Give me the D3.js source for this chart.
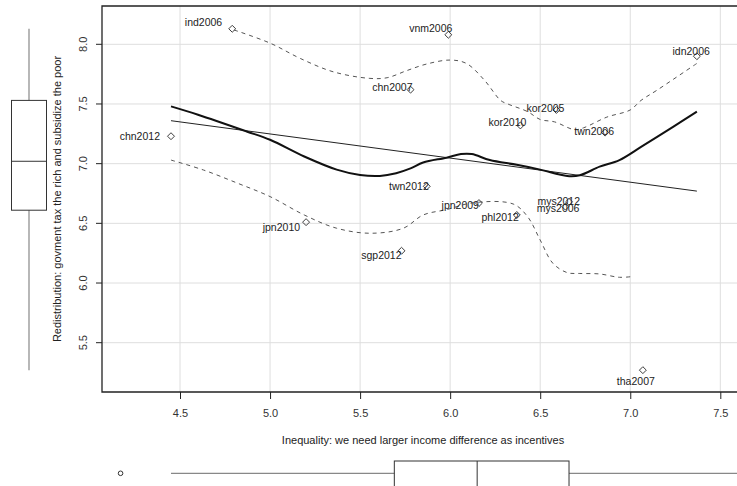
<!DOCTYPE html>
<html>
<head>
<meta charset="utf-8">
<script src="https://cdnjs.cloudflare.com/ajax/libs/d3/7.8.5/d3.min.js"></script>
<style>
  body { margin: 0; background: #fff; }
  svg { font-family: "Liberation Sans", Arial, sans-serif; }
</style>
</head>
<body>
<div id="chart"></div>
<script>
var width = 737,
    height = 486;

// observations
var labels = ["ind2006", "chn2012", "jpn2010", "vnm2006", "idn2006", "chn2007", "kor2005",
              "kor2010", "twn2006", "twn2012", "jpn2009", "phl2012", "mys2012", "mys2006",
              "sgp2012", "tha2007"];
var inequality = [4.79, 4.45, 5.20, 5.99, 7.37, 5.78, 6.59, 6.39, 6.86, 5.87, 6.16, 6.37, 6.66, 6.64, 5.73, 7.07];
var redistribution = [8.13, 7.23, 6.51, 8.08, 7.90, 7.62, 7.45, 7.32, 7.26, 6.81, 6.67, 6.57, 6.68, 6.64, 6.27, 5.27];

// linear fit endpoints
var fitX = [4.45, 7.37];
var fitY = [7.36, 6.77];

// smoother and spread curves
var smoothX = [4.45, 4.6, 4.87, 5.0, 5.19, 5.37, 5.5, 5.61, 5.70, 5.78, 5.85, 5.98, 6.06, 6.12, 6.22, 6.37, 6.5, 6.65, 6.72, 6.83, 6.94, 7.06, 7.24, 7.37];
var smoothY = [7.48, 7.41, 7.27, 7.20, 7.06, 6.95, 6.905, 6.897, 6.92, 6.96, 7.01, 7.05, 7.08, 7.08, 7.03, 6.99, 6.95, 6.897, 6.903, 6.975, 7.03, 7.14, 7.31, 7.436];
var upperX = [4.80, 5.0, 5.17, 5.35, 5.55, 5.65, 5.76, 5.87, 6.0, 6.09, 6.19, 6.28, 6.32, 6.43, 6.5, 6.58, 6.69, 6.74, 6.87, 7.0, 7.06, 7.15, 7.37];
var upperY = [8.12, 8.01, 7.88, 7.77, 7.715, 7.72, 7.78, 7.835, 7.868, 7.84, 7.70, 7.53, 7.50, 7.436, 7.37, 7.35, 7.285, 7.30, 7.39, 7.45, 7.53, 7.617, 7.84];
var lowerX = [4.45, 4.63, 4.82, 5.0, 5.19, 5.37, 5.56, 5.74, 5.85, 5.98, 6.13, 6.35, 6.43, 6.5, 6.57, 6.65, 6.72, 6.83, 6.94, 7.01];
var lowerY = [7.03, 6.947, 6.836, 6.724, 6.57, 6.459, 6.417, 6.459, 6.57, 6.615, 6.673, 6.662, 6.556, 6.36, 6.166, 6.087, 6.08, 6.076, 6.048, 6.054];

// marginal boxplots: [outlier, low whisker, q1, median, q3, high whisker]
var xBox = [4.17, 4.45, 5.69, 6.15, 6.66, 7.62];
var yBox = [5.27, 6.61, 7.02, 7.53, 8.13];

var xTicks = [4.5, 5.0, 5.5, 6.0, 6.5, 7.0, 7.5];
var yTicks = [5.5, 6.0, 6.5, 7.0, 7.5, 8.0];

// label placement (px offsets from point, text end)
var labelNudge = {
  ind2006: [-10, -6], chn2012: [-11, 0], jpn2010: [-6, 5], vnm2006: [4, -6],
  idn2006: [13, -5], chn2007: [2, -2], kor2005: [8, -2], kor2010: [6, -3],
  twn2006: [9, -1], twn2012: [2, 0], jpn2009: [0, 2], phl2012: [2, 2],
  mys2012: [11, -1], mys2006: [14, 2], sgp2012: [0, 5], tha2007: [-7, 11]
};

var plot = {left: 102, top: 6, bottom: 392, right: 760};

var x = d3.scaleLinear().domain([4.5, 7.5]).range([180, 720.3]);
var y = d3.scaleLinear().domain([5.5, 8.0]).range([342.7, 44.3]);

var svg = d3.select("#chart")
    .append("svg")
    .attr("width", width)
    .attr("height", height);

// grid
svg.append("g").selectAll("line")
    .data(xTicks).enter().append("line")
    .attr("x1", function(d) { return x(d); })
    .attr("x2", function(d) { return x(d); })
    .attr("y1", plot.top)
    .attr("y2", plot.bottom)
    .attr("stroke", "#dedede");
svg.append("g").selectAll("line")
    .data(yTicks).enter().append("line")
    .attr("x1", plot.left)
    .attr("x2", plot.right)
    .attr("y1", function(d) { return y(d); })
    .attr("y2", function(d) { return y(d); })
    .attr("stroke", "#dedede");

// axes
var xAxis = svg.append("g")
    .attr("transform", "translate(0," + plot.bottom + ")")
    .call(d3.axisBottom(x).tickValues(xTicks).tickFormat(d3.format(".1f")).tickSize(7).tickPadding(10));
var yAxis = svg.append("g")
    .attr("transform", "translate(" + plot.left + ",0)")
    .call(d3.axisLeft(y).tickValues(yTicks).tickFormat(d3.format(".1f")).tickSize(6));
[xAxis, yAxis].forEach(function(a) {
  a.select(".domain").remove();
  a.selectAll("line").attr("stroke", "#222");
  a.selectAll("text").attr("fill", "#333").style("font-size", "11px");
});
yAxis.selectAll("text")
    .attr("text-anchor", "middle")
    .attr("x", 0).attr("dy", 0)
    .attr("transform", function(d) { return "translate(-15," + y(d) + ") rotate(-90)"; })
    .attr("y", 0);
yAxis.selectAll(".tick").attr("transform", null);
yAxis.selectAll(".tick line").attr("y1", function(d) { return y(d); }).attr("y2", function(d) { return y(d); });

// frame
var frame = svg.append("g").attr("stroke", "#222").attr("stroke-width", 1.3).attr("fill", "none");
frame.append("path")
    .attr("d", "M" + plot.right + "," + plot.top + "H" + plot.left + "V" + plot.bottom + "H" + plot.right);

// curves
function pairs(xs, ys) { return xs.map(function(v, i) { return [v, ys[i]]; }); }
var line = d3.line()
    .x(function(d) { return x(d[0]); })
    .y(function(d) { return y(d[1]); })
    .curve(d3.curveCatmullRom);

svg.append("path").datum(pairs(fitX, fitY))
    .attr("d", line).attr("fill", "none").attr("stroke", "#222").attr("stroke-width", 1);
svg.append("path").datum(pairs(upperX, upperY))
    .attr("d", line).attr("fill", "none").attr("stroke", "#555").attr("stroke-dasharray", "4,4");
svg.append("path").datum(pairs(lowerX, lowerY))
    .attr("d", line).attr("fill", "none").attr("stroke", "#555").attr("stroke-dasharray", "4,4");
svg.append("path").datum(pairs(smoothX, smoothY))
    .attr("d", line).attr("fill", "none").attr("stroke", "#111").attr("stroke-width", 2);

// points
var diamond = d3.symbol().type(d3.symbolSquare).size(24);
svg.append("g").selectAll("path")
    .data(labels).enter().append("path")
    .attr("d", diamond)
    .attr("transform", function(d, i) {
      return "translate(" + x(inequality[i]) + "," + y(redistribution[i]) + ") rotate(45)";
    })
    .attr("fill", "none")
    .attr("stroke", "#333")
    .attr("stroke-width", 0.9);

svg.append("g").selectAll("text")
    .data(labels).enter().append("text")
    .attr("x", function(d, i) { return x(inequality[i]) + labelNudge[d][0]; })
    .attr("y", function(d, i) { return y(redistribution[i]) + labelNudge[d][1]; })
    .attr("dy", "0.35em")
    .attr("text-anchor", function(d) { return d === "tha2007" ? "middle" : "end"; })
    .attr("fill", "#222")
    .style("font-size", "10.5px")
    .text(function(d) { return d; });

// axis titles
svg.append("text")
    .attr("x", 423).attr("y", 444)
    .attr("text-anchor", "middle")
    .attr("fill", "#222")
    .style("font-size", "11px")
    .text("Inequality: we need larger income difference as incentives");
svg.append("text")
    .attr("transform", "translate(61,199) rotate(-90)")
    .attr("text-anchor", "middle")
    .attr("fill", "#222")
    .style("font-size", "11px")
    .text("Redistribution: govment tax the rich and subsidize the poor");

// left boxplot
var lb = svg.append("g");
lb.append("line")
    .attr("x1", 29).attr("x2", 29)
    .attr("y1", y(yBox[4])).attr("y2", y(yBox[0]))
    .attr("stroke", "#888").attr("stroke-width", 1.2);
lb.append("rect")
    .attr("x", 11.5).attr("width", 35)
    .attr("y", y(yBox[3])).attr("height", y(yBox[1]) - y(yBox[3]))
    .attr("fill", "#fff").attr("stroke", "#333");
lb.append("line")
    .attr("x1", 11.5).attr("x2", 46.5)
    .attr("y1", y(yBox[2])).attr("y2", y(yBox[2]))
    .attr("stroke", "#333");

// bottom boxplot
var bb = svg.append("g");
bb.append("line")
    .attr("x1", x(xBox[1])).attr("x2", x(xBox[5]))
    .attr("y1", 473.3).attr("y2", 473.3)
    .attr("stroke", "#888").attr("stroke-width", 1.2);
bb.append("circle")
    .attr("cx", x(xBox[0])).attr("cy", 473.3).attr("r", 2.3)
    .attr("fill", "none").attr("stroke", "#333");
bb.append("rect")
    .attr("x", x(xBox[2])).attr("width", x(xBox[4]) - x(xBox[2]))
    .attr("y", 461).attr("height", 35)
    .attr("fill", "#fff").attr("stroke", "#333");
bb.append("line")
    .attr("x1", x(xBox[3])).attr("x2", x(xBox[3]))
    .attr("y1", 461).attr("y2", 496)
    .attr("stroke", "#333");
</script>
</body>
</html>
